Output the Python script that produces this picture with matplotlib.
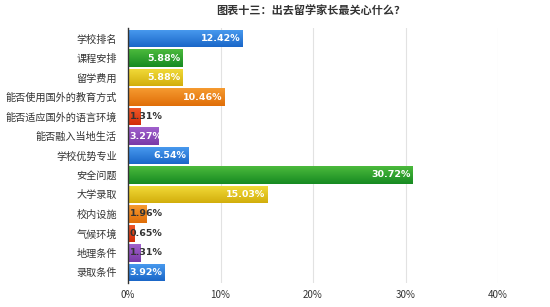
import matplotlib
matplotlib.use("Agg")
import matplotlib.pyplot as plt
import numpy as np
from matplotlib.colors import LinearSegmentedColormap

plt.rcParams['font.family'] = ['Noto Sans CJK SC', 'DejaVu Sans']

title = "图表十三：出去留学家长最关心什么？"
categories = ["学校排名", "课程安排", "留学费用", "能否使用国外的教育方式", "能否适应国外的语言环境",
              "能否融入当地生活", "学校优势专业", "安全问题", "大学录取", "校内设施", "气候环境",
              "地理条件", "录取条件"]
values = [12.42, 5.88, 5.88, 10.46, 1.31, 3.27, 6.54, 30.72, 15.03, 1.96, 0.65, 1.31, 3.92]
xticks = [0, 10, 20, 30, 40]

palette = [("#4a9cf0", "#1a66c8"), ("#4cba3c", "#168a22"), ("#f3dc3a", "#d2ae0c"),
           ("#f59a30", "#e06e08"), ("#f05a2a", "#d22c08"), ("#a060cc", "#7a3aa8")]

fig = plt.figure(figsize=(5.5, 3.07), dpi=100)
ax = fig.add_axes([128/550, 1-283/307, (498-128)/550, (283-28)/307])

y = np.arange(len(categories))
bars = ax.barh(y, values, height=0.9, color="none", edgecolor="none", zorder=3)
grad = np.linspace(0, 1, 64).reshape(-1, 1)
for i, (b, v) in enumerate(zip(bars, values)):
    c1, c2 = palette[i % len(palette)]
    cmap = LinearSegmentedColormap.from_list("g", [c1, c2])
    x0, yb = b.get_x(), b.get_y()
    im = ax.imshow(grad, aspect="auto", cmap=cmap, origin="upper",
                   extent=[x0, x0 + b.get_width(), yb + b.get_height(), yb], zorder=3)
    im.set_clip_path(b)
    lbl = f"{v:.2f}%"
    if v >= 3.5:
        ax.text(v - 0.2, i, lbl, ha="right", va="center", color="white",
                fontsize=6.8, fontweight="bold", family=["DejaVu Sans"], zorder=5)
    elif v >= 3:
        ax.text(0.1, i, lbl, ha="left", va="center", color="white",
                fontsize=6.8, fontweight="bold", family=["DejaVu Sans"], zorder=5)
    else:
        ax.text(0.2, i, lbl, ha="left", va="center", color="#333333",
                fontsize=6.8, fontweight="bold", family=["DejaVu Sans"], zorder=5)

ax.set_ylim(len(categories) - 0.5 + 0.05, -0.5 - 0.05)
ax.set_xlim(0, 40)
ax.set_yticks(y)
ax.set_yticklabels(categories, fontsize=7.3, color="#333333")
ax.set_xticks(xticks)
ax.set_xticklabels([f"{t}%" for t in xticks], fontsize=7, color="#333333")
ax.tick_params(axis="y", length=0, pad=8)
ax.tick_params(axis="x", length=0, pad=5)
ax.grid(axis="x", color="#e2e2e2", linewidth=0.8, zorder=0)
for s in ["top", "right", "bottom"]:
    ax.spines[s].set_visible(False)
ax.spines["left"].set_color("#333333")
ax.spines["left"].set_linewidth(1.0)
ax.spines["left"].set_zorder(6)

fig.text(311/550, 1-11/307, title, ha="center", va="center", fontsize=8, fontweight="bold", color="#333333")

fig.savefig("out.png", dpi=100)
